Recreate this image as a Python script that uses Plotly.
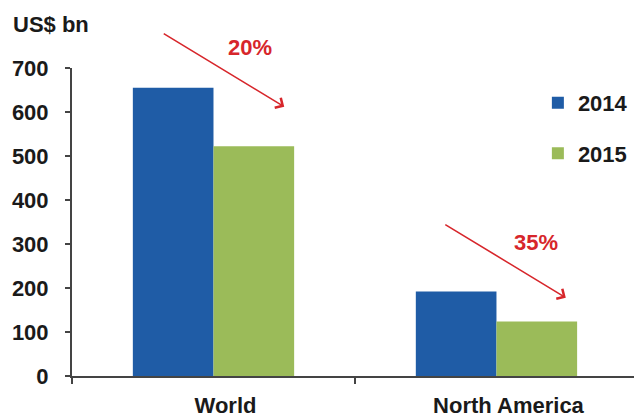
import plotly.graph_objects as go

# Investment by region, US$ bn
regions = ["World", "North America"]
years = ["2014", "2015"]
values_2014 = [655, 192]
values_2015 = [522, 124]
drop_labels = ["20%", "35%"]

BLUE = "#1f5ca6"
GREEN = "#9bbb59"
RED = "#d7262b"
INK = "#1a1a1a"
FONT = "Liberation Sans, Arial, sans-serif"
FS = 22

fig = go.Figure()
for name, vals, color, grp in [(years[0], values_2014, BLUE, "a"),
                               (years[1], values_2015, GREEN, "b")]:
    fig.add_trace(go.Bar(
        x=regions, y=vals, name=name, legendgroup=grp,
        marker=dict(color=color, line=dict(width=0)),
    ))

# Red arrows showing the drop from 2014 to 2015, with the percentage
arrow_heads = [(0.25, 612), (1.245, 178)]
text_pos = [(0.13, 1.068), (1.14, 0.435)]  # x in data units, y as fraction of plot height
for (hx, hy), (tx, ty), lbl in zip(arrow_heads, text_pos, drop_labels):
    fig.add_annotation(
        x=hx, y=hy, xref="x", yref="y", ax=-122, ay=-74, axref="pixel", ayref="pixel",
        text="", showarrow=True, arrowhead=4, arrowsize=1.4, arrowwidth=1.6,
        arrowcolor=RED,
    )
    fig.add_annotation(
        x=tx, y=ty, xref="x", yref="paper", yanchor="middle", text=lbl, showarrow=False,
        font=dict(family=FONT, size=FS, color=RED, weight="bold"),
    )

fig.add_annotation(
    x=-0.108, y=1.14, xref="paper", yref="paper", xanchor="left", yanchor="middle",
    text="US$ bn", showarrow=False,
    font=dict(family=FONT, size=FS, color=INK, weight="bold"),
)

fig.update_layout(
    width=634, height=418,
    margin=dict(l=72, r=0, t=68, b=42),
    paper_bgcolor="white", plot_bgcolor="white",
    barmode="group", bargap=0.43, bargroupgap=0,
    font=dict(family=FONT, size=FS, color=INK, weight="bold"),
    legend=dict(
        x=0.998, y=0.955, xanchor="right", yanchor="top",
        font=dict(family=FONT, size=FS, color=INK, weight="bold"),
        tracegroupgap=19, bgcolor="rgba(0,0,0,0)",
    ),
    xaxis=dict(
        range=[-0.5, 1.486], showline=True, linecolor="#444444", linewidth=2,
        ticks="outside", tickson="boundaries", ticklen=6, tickwidth=2, tickcolor="#444444",
        showgrid=False, ticklabelstandoff=9, ticklabelshift=12, automargin=False,
        tickfont=dict(family=FONT, size=FS, color=INK, weight="bold"),
    ),
    yaxis=dict(
        range=[0, 700], dtick=100, showline=True, linecolor="#444444", linewidth=2,
        ticks="outside", ticklen=5, tickwidth=2, tickcolor="#444444",
        showgrid=False, zeroline=False, ticklabelstandoff=12, automargin=False,
        tickfont=dict(family=FONT, size=FS, color=INK, weight="bold"),
    ),
)

fig.write_html("out.html")
